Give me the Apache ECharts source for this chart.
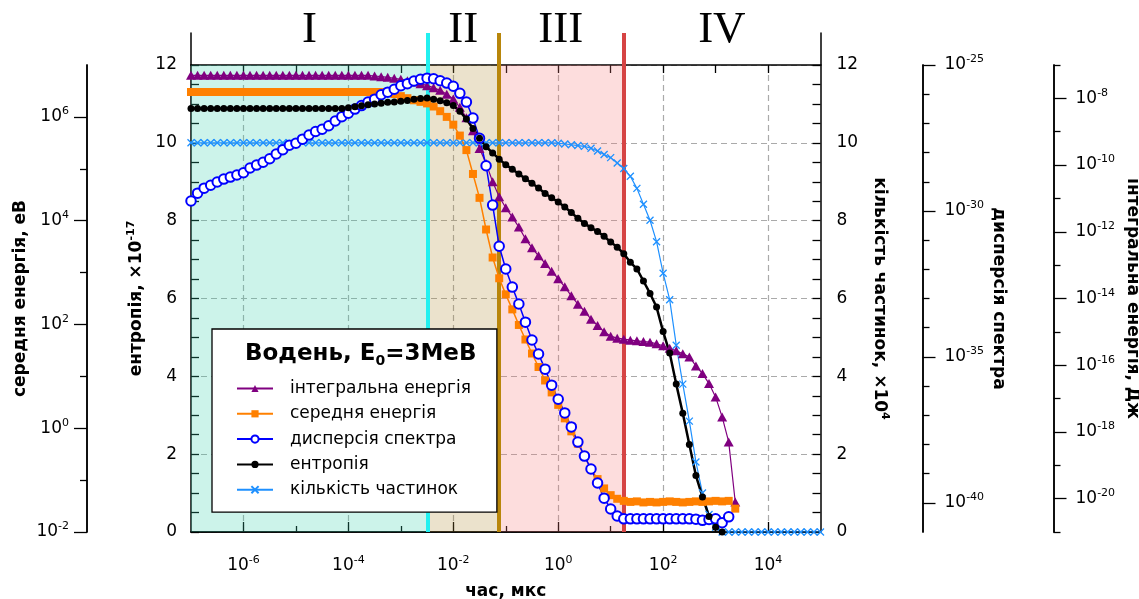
<!DOCTYPE html>
<html>
<head>
<meta charset="utf-8">
<script src="https://cdn.jsdelivr.net/npm/echarts@6/dist/echarts.min.js"></script>
<style>
  html, body { margin: 0; padding: 0; background: #fff; }
  #chart { width: 1139px; height: 599px; }
</style>
</head>
<body>
<div id="chart"></div>
<script>
// time grid, log10(t / мкс), shared by all curves
const tLog = [
  -7, -6.875, -6.75, -6.625, -6.5, -6.375, -6.25, -6.125,
  -6, -5.875, -5.75, -5.625, -5.5, -5.375, -5.25, -5.125,
  -5, -4.875, -4.75, -4.625, -4.5, -4.375, -4.25, -4.125,
  -4, -3.875, -3.75, -3.625, -3.5, -3.375, -3.25, -3.125,
  -3, -2.875, -2.75, -2.625, -2.5, -2.375, -2.25, -2.125,
  -2, -1.875, -1.75, -1.625, -1.5, -1.375, -1.25, -1.125,
  -1, -0.875, -0.75, -0.625, -0.5, -0.375, -0.25, -0.125,
  0, 0.125, 0.25, 0.375, 0.5, 0.625, 0.75, 0.875,
  1, 1.125, 1.25, 1.375, 1.5, 1.625, 1.75, 1.875,
  2, 2.125, 2.25, 2.375, 2.5, 2.625, 2.75, 2.875,
  3, 3.125, 3.25, 3.375, 3.5, 3.625, 3.75, 3.875,
  4, 4.125, 4.25, 4.375, 4.5, 4.625, 4.75, 4.875,
  5
];

// integral energy, log10(Дж)
const integralLog = [
  -7.31, -7.31, -7.31, -7.31, -7.31, -7.31, -7.31, -7.31, -7.31, -7.31,
  -7.31, -7.31, -7.31, -7.31, -7.31, -7.31, -7.31, -7.31, -7.31, -7.31,
  -7.31, -7.31, -7.31, -7.31, -7.31, -7.31, -7.31, -7.31, -7.33, -7.35,
  -7.37, -7.40, -7.43, -7.47, -7.51, -7.56, -7.62, -7.68, -7.76, -7.88,
  -8.02, -8.27, -8.58, -8.97, -9.50, -9.95, -10.50, -10.95, -11.28, -11.56,
  -11.86, -12.21, -12.48, -12.72, -12.95, -13.18, -13.41, -13.65, -13.92, -14.17,
  -14.38, -14.62, -14.81, -15.00, -15.13, -15.19, -15.22, -15.25, -15.27, -15.29,
  -15.31, -15.36, -15.42, -15.49, -15.57, -15.66, -15.75, -16.02, -16.25, -16.55,
  -16.95, -17.55, -18.30, -20.10
];

// mean energy, log10(еВ)
const meanLog = [
  6.48, 6.48, 6.48, 6.48, 6.48, 6.48, 6.48, 6.48, 6.48, 6.48,
  6.48, 6.48, 6.48, 6.48, 6.48, 6.48, 6.48, 6.48, 6.48, 6.48,
  6.48, 6.48, 6.48, 6.48, 6.48, 6.48, 6.48, 6.48, 6.48, 6.48,
  6.46, 6.44, 6.40, 6.36, 6.32, 6.29, 6.26, 6.20, 6.11, 6.00,
  5.85, 5.64, 5.36, 4.90, 4.44, 3.83, 3.29, 2.89, 2.58, 2.29,
  1.99, 1.71, 1.44, 1.18, 0.92, 0.69, 0.45, 0.19, -0.06, -0.30,
  -0.53, -0.79, -0.98, -1.16, -1.29, -1.36, -1.40, -1.42, -1.41, -1.43,
  -1.42, -1.43, -1.42, -1.41, -1.42, -1.43, -1.42, -1.41, -1.42, -1.41,
  -1.40, -1.41, -1.40, -1.55
];

// spectrum dispersion, log10
const dispLog = [
  -29.66, -29.39, -29.22, -29.12, -29.01, -28.91, -28.84, -28.77, -28.69, -28.53,
  -28.43, -28.33, -28.21, -28.05, -27.90, -27.75, -27.68, -27.54, -27.40, -27.28,
  -27.20, -27.08, -26.92, -26.77, -26.65, -26.51, -26.39, -26.27, -26.17, -26.02,
  -25.93, -25.83, -25.71, -25.64, -25.55, -25.49, -25.45, -25.47, -25.54, -25.62,
  -25.73, -25.97, -26.27, -26.82, -27.51, -28.45, -29.80, -31.21, -31.99, -32.61,
  -33.19, -33.81, -34.42, -34.90, -35.42, -35.97, -36.45, -36.92, -37.40, -37.92,
  -38.40, -38.84, -39.32, -39.84, -40.21, -40.45, -40.55, -40.55, -40.55, -40.55,
  -40.55, -40.55, -40.55, -40.55, -40.55, -40.55, -40.55, -40.56, -40.60, -40.57,
  -40.55, -40.68, -40.48
];

// entropy, x1e-17
const entropy = [
  10.88, 10.88, 10.88, 10.88, 10.88, 10.88, 10.88, 10.88, 10.88, 10.88,
  10.88, 10.88, 10.88, 10.88, 10.88, 10.88, 10.88, 10.88, 10.88, 10.88,
  10.88, 10.88, 10.88, 10.88, 10.90, 10.93, 10.95, 10.98, 11.00, 11.02,
  11.04, 11.05, 11.07, 11.09, 11.12, 11.14, 11.15, 11.12, 11.08, 11.03,
  10.96, 10.81, 10.61, 10.37, 10.12, 9.90, 9.74, 9.58, 9.44, 9.32,
  9.20, 9.08, 8.96, 8.84, 8.70, 8.59, 8.48, 8.35, 8.21, 8.06,
  7.93, 7.82, 7.72, 7.60, 7.45, 7.32, 7.15, 6.93, 6.76, 6.45,
  6.13, 5.78, 5.15, 4.60, 3.80, 3.05, 2.25, 1.45, 0.90, 0.40,
  0.12, 0
];

// particle count, x1e4
const count = [
  10, 10, 10, 10, 10, 10, 10, 10, 10, 10,
  10, 10, 10, 10, 10, 10, 10, 10, 10, 10,
  10, 10, 10, 10, 10, 10, 10, 10, 10, 10,
  10, 10, 10, 10, 10, 10, 10, 10, 10, 10,
  10, 10, 10, 10, 10, 10, 10, 10, 10, 10,
  10, 10, 10, 10, 10, 10, 9.99, 9.97, 9.95, 9.93,
  9.91, 9.86, 9.79, 9.70, 9.62, 9.48, 9.34, 9.14, 8.83, 8.42,
  8.01, 7.46, 6.65, 5.97, 4.80, 3.80, 2.85, 1.80, 1.00, 0.45,
  0.12, 0, 0, 0, 0, 0, 0, 0, 0, 0,
  0, 0, 0, 0, 0, 0, 0
];

// stages of the process (log10 t bounds)
const regionEdges = [-7, -2.48, -1.14, 1.24, 5];
const regionNames = ['I', 'II', 'III', 'IV'];
const regionFills = ['rgba(51,207,171,0.25)', 'rgba(175,139,51,0.25)', 'rgba(247,119,119,0.25)', 'rgba(0,0,0,0)'];
const edgeColors = ['#22f0f0', '#b8860b', '#d64444'];

// tick positions
const xMajor = [-6, -4, -2, 0, 2, 4];
const xMinor = [-5, -3, -1, 1, 3];
const meanMajor = [-2, 0, 2, 4, 6];
const meanMinor = [-1, 1, 3, 5];
const dispMajor = [-40, -35, -30, -25];
const dispMinor = [-39, -38, -37, -36, -34, -33, -32, -31, -29, -28, -27, -26];
const intMajor = [-20, -18, -16, -14, -12, -10, -8];
const intMinor = [-21, -19, -17, -15, -13, -11, -9, -7];

const legendNames = ['інтегральна енергія', 'середня енергія', 'дисперсія спектра', 'ентропія', 'кількість частинок'];

const FONT = 'DejaVu Sans';
const chart = echarts.init(document.getElementById('chart'));

const pairs = arr => arr.map((v, i) => [tLog[i], v]);
const pow = v => '{b|10}{s|' + v + '}';
const powRich = {
  b: { fontFamily: FONT, fontSize: 17, color: '#000', lineHeight: 22 },
  s: { fontFamily: FONT, fontSize: 11, color: '#000', verticalAlign: 'top', lineHeight: 12 }
};
const axisLine = { show: true, onZero: false, lineStyle: { color: '#000', width: 1.5 } };
const tickStyle = { color: '#000', width: 1.3 };
const dashed = { show: true, lineStyle: { color: '#aaa', type: [6, 4], width: 1.2 } };
const nameStyle = {
  fontFamily: FONT, fontSize: 17, fontWeight: 'bold', color: '#000', lineHeight: 22,
  rich: { s: { fontFamily: FONT, fontSize: 11, fontWeight: 'bold', color: '#000', verticalAlign: 'top', lineHeight: 12 } }
};

// log axis drawn as value axis over exponents
function logAxis(pos, offset, min, max, ticks, len, labels, margin) {
  return {
    gridIndex: 0, type: 'value', position: pos, offset: offset, min: min, max: max,
    axisLine: axisLine,
    axisTick: { show: true, length: len, customValues: ticks, lineStyle: tickStyle },
    axisLabel: labels
      ? { show: true, customValues: ticks, formatter: pow, rich: powRich, margin: margin }
      : { show: false },
    splitLine: { show: false }
  };
}

function axisName(axis, text, rotate, gap) {
  return Object.assign(axis, {
    name: text, nameLocation: 'middle', nameRotate: rotate, nameGap: gap,
    nameMoveOverlap: false, nameTextStyle: nameStyle
  });
}

const option = {
  animation: false,
  backgroundColor: '#fff',
  textStyle: { fontFamily: FONT },
  grid: [
    { left: 191, right: 318.5, top: 65, bottom: 67, outerBoundsMode: 'none' },
    { left: 191, right: 318.5, top: 33, height: 32, outerBoundsMode: 'none' }
  ],
  title: {
    text: 'Водень, E{s|0}=3МеВ',
    left: 240, top: 335, z: 10,
    textStyle: {
      fontFamily: FONT, fontSize: 23, fontWeight: 'bold', color: '#000', lineHeight: 28,
      rich: { s: { fontFamily: FONT, fontSize: 14, fontWeight: 'bold', color: '#000', verticalAlign: 'bottom', lineHeight: 15 } }
    }
  },
  legend: {
    data: legendNames,
    orient: 'vertical', left: 212, top: 329,
    padding: [51, 26, 14, 24],
    itemGap: 8.3, itemWidth: 36, itemHeight: 9,
    backgroundColor: '#fff', borderColor: '#000', borderWidth: 1.3, borderRadius: 0,
    selectedMode: false,
    textStyle: { fontFamily: FONT, fontSize: 17, color: '#000', padding: [0, 0, 0, 12] }
  },
  xAxis: [
    axisName({
      gridIndex: 0, type: 'value', min: -7, max: 5, position: 'bottom',
      axisLine: axisLine,
      axisTick: { show: true, inside: true, length: 10, customValues: xMajor, lineStyle: tickStyle },
      axisLabel: { customValues: xMajor, formatter: pow, rich: powRich, margin: 23 },
      splitLine: dashed
    }, 'час, мкс', 0, 49),
    {
      gridIndex: 0, type: 'value', min: -7, max: 5, position: 'bottom',
      axisLine: axisLine,
      axisTick: { show: true, inside: true, length: 6, customValues: xMinor, lineStyle: tickStyle },
      axisLabel: { show: false }, splitLine: { show: false }
    },
    {
      gridIndex: 0, type: 'value', min: -7, max: 5, position: 'top',
      axisLine: axisLine,
      axisTick: { show: true, inside: true, length: 8, customValues: xMajor.concat(xMinor), lineStyle: tickStyle },
      axisLabel: { show: false }, splitLine: { show: false }
    },
    { gridIndex: 1, type: 'value', min: -7, max: 5, show: false }
  ],
  yAxis: [
    axisName({
      gridIndex: 0, type: 'value', min: 0, max: 12, interval: 2, position: 'left',
      axisLine: axisLine,
      axisTick: { show: true, inside: true, length: 8, lineStyle: tickStyle },
      minorTick: { show: true, splitNumber: 4, length: 8, lineStyle: tickStyle },
      axisLabel: { fontFamily: FONT, fontSize: 17, color: '#000', margin: 14 },
      splitLine: dashed
    }, 'ентропія, ×10{s|-17}', 90, 43),
    axisName({
      gridIndex: 0, type: 'value', min: 0, max: 12, interval: 2, position: 'right',
      axisLine: axisLine,
      axisTick: { show: true, inside: true, length: 8, lineStyle: tickStyle },
      minorTick: { show: true, splitNumber: 4, length: 8, lineStyle: tickStyle },
      axisLabel: { fontFamily: FONT, fontSize: 17, color: '#000', margin: 16 },
      splitLine: { show: false }
    }, 'кількість частинок, ×10{s|4}', -90, 48),
    axisName(logAxis('left', 104, -2, 7, meanMajor, 13, true, 18), 'середня енергія, еВ', 90, 55),
    logAxis('left', 104, -2, 7, meanMinor, 7, false),
    axisName(logAxis('right', 102, -41, -25, dispMajor, 13, true, 22), 'дисперсія спектра', -90, 65),
    logAxis('right', 102, -41, -25, dispMinor, 7, false),
    axisName(logAxis('right', 233, -21, -7, intMajor, 13, true, 22), 'інтегральна енергія, Дж', -90, 68),
    logAxis('right', 233, -21, -7, intMinor, 7, false),
    { gridIndex: 1, type: 'value', min: 0, max: 1, position: 'left', axisLine: axisLine, axisTick: { show: false }, axisLabel: { show: false }, splitLine: { show: false } },
    { gridIndex: 1, type: 'value', min: 0, max: 1, position: 'right', axisLine: axisLine, axisTick: { show: false }, axisLabel: { show: false }, splitLine: { show: false } }
  ],
  series: [
    {
      // stage shading and borders in the plot
      type: 'line', xAxisIndex: 0, yAxisIndex: 0, data: [], silent: true, z: 1,
      markArea: {
        silent: true, z: 1,
        data: regionNames.map((n, i) => [
          { xAxis: regionEdges[i], itemStyle: { color: regionFills[i] } },
          { xAxis: regionEdges[i + 1] }
        ])
      },
      markLine: {
        silent: true, z: 2, symbol: ['none', 'none'], label: { show: false },
        data: edgeColors.map((c, i) => ({ xAxis: regionEdges[i + 1], lineStyle: { color: c, width: 4, type: 'solid' } }))
      }
    },
    {
      // stage labels above the plot
      type: 'line', xAxisIndex: 3, yAxisIndex: 8, data: [], silent: true, z: 1,
      markArea: {
        silent: true,
        itemStyle: { color: 'rgba(0,0,0,0)' },
        label: { show: true, position: 'inside', offset: [0, -19], fontFamily: 'Liberation Serif', fontSize: 45, color: '#000' },
        data: regionNames.map((n, i) => [
          { name: n, xAxis: regionEdges[i] },
          { xAxis: regionEdges[i + 1] }
        ])
      },
      markLine: {
        silent: true, symbol: ['none', 'none'], label: { show: false },
        data: edgeColors.map((c, i) => ({ xAxis: regionEdges[i + 1], lineStyle: { color: c, width: 4, type: 'solid' } }))
      }
    },
    {
      name: 'кількість частинок', type: 'line', xAxisIndex: 0, yAxisIndex: 1, z: 3,
      data: pairs(count), color: '#1e90ff',
      symbol: 'path://M0,0L10,10M10,0L0,10', symbolSize: 7,
      lineStyle: { color: '#1e90ff', width: 1.2 },
      itemStyle: { color: '#1e90ff', borderColor: '#1e90ff', borderWidth: 1.3 }
    },
    {
      name: 'інтегральна енергія', type: 'line', xAxisIndex: 0, yAxisIndex: 6, z: 3,
      data: pairs(integralLog), color: '#800080',
      symbol: 'triangle', symbolSize: [10, 9],
      lineStyle: { color: '#800080', width: 1.2 },
      itemStyle: { color: '#800080' }
    },
    {
      name: 'середня енергія', type: 'line', xAxisIndex: 0, yAxisIndex: 2, z: 3,
      data: pairs(meanLog), color: '#ff8000',
      symbol: 'rect', symbolSize: 8,
      lineStyle: { color: '#ff8000', width: 1.5 },
      itemStyle: { color: '#ff8000' }
    },
    {
      name: 'дисперсія спектра', type: 'line', xAxisIndex: 0, yAxisIndex: 4, z: 3,
      data: pairs(dispLog), color: '#0000ff',
      symbol: 'emptyCircle', symbolSize: 9.5,
      lineStyle: { color: '#0000ff', width: 1.5 },
      itemStyle: { color: '#0000ff', borderWidth: 1.5 }
    },
    {
      name: 'ентропія', type: 'line', xAxisIndex: 0, yAxisIndex: 0, z: 3,
      data: pairs(entropy), color: '#000',
      symbol: 'circle', symbolSize: 7,
      lineStyle: { color: '#000', width: 2.5 },
      itemStyle: { color: '#000' }
    }
  ]
};

chart.setOption(option);
</script>
</body>
</html>
